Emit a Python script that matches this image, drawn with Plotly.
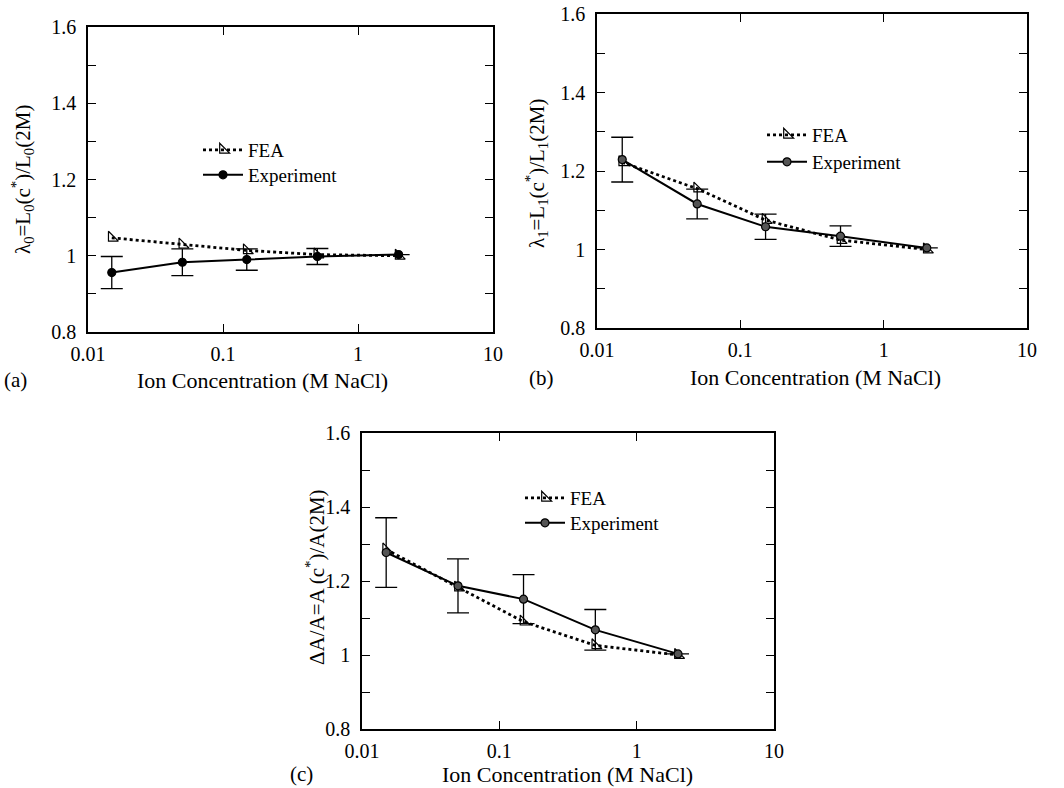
import plotly.graph_objects as go

# ---- data ----
conc = [0.015, 0.05, 0.15, 0.5, 2.0]

a_fea = [1.047, 1.029, 1.014, 1.003, 1.000]
a_exp = [0.956, 0.983, 0.990, 0.998, 1.003]
a_err = [0.042, 0.035, 0.028, 0.021, 0.0]

b_fea = [1.222, 1.155, 1.075, 1.024, 1.000]
b_exp = [1.229, 1.116, 1.058, 1.034, 1.004]
b_err = [0.057, 0.038, 0.032, 0.026, 0.0]

c_fea = [1.285, 1.182, 1.090, 1.026, 1.000]
c_exp = [1.277, 1.187, 1.151, 1.068, 1.003]
c_err = [0.094, 0.073, 0.066, 0.055, 0.0]

x_tickvals = [0.01, 0.1, 1, 10]
x_ticktext = ["0.01", "0.1", "1", "10"]
y_tickvals = [0.8, 1.0, 1.2, 1.4, 1.6]
y_ticktext = ["0.8", "1", "1.2", "1.4", "1.6"]

series_names = ["FEA", "Experiment"]
panel_labels = ["(a)", "(b)", "(c)"]
y_titles = [
    "λ<sub>0</sub>=L<sub>0</sub>(c<sup>*</sup>)/L<sub>0</sub>(2M)",
    "λ<sub>1</sub>=L<sub>1</sub>(c<sup>*</sup>)/L<sub>1</sub>(2M)",
    "ΔA/A=A (c<sup>*</sup>)/A(2M)",
]
x_title = "Ion Concentration (M NaCl)"

FONT = "Liberation Serif, Times New Roman, serif"
W, H = 1064, 788

# pixel boxes of the three plot areas: (left, right, top, bottom)
boxes = [(88, 493, 27, 332), (597, 1027, 14, 328), (362, 774, 433, 729)]
# legend boxes (left, top) for the FEA entry and the Experiment entry of each panel
legend_pos = [((198, 131), (198, 156)), ((762, 116), (762, 143)), ((520, 479), (520, 504))]
ytitle_pos = [(22, 180), (537, 174), (315, 577)]
xtitle_pos = [(262, 380), (815, 378), (567, 774)]
plabel_pos = [(15, 380), (541, 378), (301, 774)]

panels = [(a_fea, a_exp, a_err), (b_fea, b_exp, b_err), (c_fea, c_exp, c_err)]
exp_fill = ["black", "#555555", "#555555"]


def legend_key(n):
    return "legend" if n == 1 else "legend" + str(n)


fig = go.Figure()
for i, (fea, exp, err) in enumerate(panels):
    sfx = "" if i == 0 else str(i + 1)
    fig.add_trace(go.Scatter(
        x=conc, y=fea, name=series_names[0], mode="lines+markers",
        line=dict(color="black", width=2.8, dash="dot"),
        marker=dict(symbol="triangle-sw-open", size=11, color="black", line=dict(width=1.2)),
        xaxis="x" + sfx, yaxis="y" + sfx, legend=legend_key(2 * i + 1),
    ))
    fig.add_trace(go.Scatter(
        x=conc, y=exp, name=series_names[1], mode="lines+markers",
        line=dict(color="black", width=2),
        marker=dict(symbol="circle", size=8, color=exp_fill[i], line=dict(color="black", width=1.2)),
        error_y=dict(type="data", array=err, visible=True, color="black", thickness=1.3, width=11),
        xaxis="x" + sfx, yaxis="y" + sfx, legend=legend_key(2 * i + 2),
    ))

layout = dict(
    width=W, height=H, margin=dict(l=0, r=0, t=0, b=0, autoexpand=False),
    paper_bgcolor="white", plot_bgcolor="white",
    font=dict(family=FONT, size=20, color="black"),
    showlegend=True,
)
annotations = []
for i, (l, r, t, b) in enumerate(boxes):
    sfx = "" if i == 0 else str(i + 1)
    xa = dict(
        type="log", range=[-2, 1], domain=[l / W, r / W], anchor="y" + sfx,
        tickvals=x_tickvals, ticktext=x_ticktext, ticks="inside", ticklen=8,
        tickwidth=1.3, tickcolor="black", showline=True, linecolor="black",
        linewidth=1.6, mirror="ticks", showgrid=False, zeroline=False,
        tickfont=dict(family=FONT, size=20), ticklabelstandoff=3, automargin=False,
    )
    ya = dict(
        range=[0.8, 1.6], domain=[1 - b / H, 1 - t / H], anchor="x" + sfx,
        tickvals=y_tickvals, ticktext=y_ticktext, ticks="inside", ticklen=8,
        tickwidth=1.3, tickcolor="black", showline=True, linecolor="black",
        linewidth=1.6, mirror="ticks", showgrid=False, zeroline=False,
        tickfont=dict(family=FONT, size=20), ticklabelstandoff=6, automargin=False,
        minor=dict(dtick=0.1, tick0=0.8, ticks="inside", ticklen=8, tickcolor="black", tickwidth=1.3, showgrid=False),
    )
    layout["xaxis" + sfx] = xa
    layout["yaxis" + sfx] = ya
    for j in range(2):
        lx, ly = legend_pos[i][j]
        layout[legend_key(2 * i + j + 1)] = dict(
            x=lx / W, y=1 - ly / H, xanchor="left", yanchor="top",
            bgcolor="rgba(0,0,0,0)", font=dict(family=FONT, size=19),
            itemwidth=40,
        )
    tx, ty = ytitle_pos[i]
    annotations.append(dict(text=y_titles[i], x=tx / W, y=1 - ty / H, xref="paper", yref="paper",
                            showarrow=False, textangle=-90, font=dict(family=FONT, size=21),
                            xanchor="center", yanchor="middle"))
    tx, ty = xtitle_pos[i]
    annotations.append(dict(text=x_title, x=tx / W, y=1 - ty / H, xref="paper", yref="paper",
                            showarrow=False, font=dict(family=FONT, size=22),
                            xanchor="center", yanchor="middle"))
    tx, ty = plabel_pos[i]
    annotations.append(dict(text=panel_labels[i], x=tx / W, y=1 - ty / H, xref="paper", yref="paper",
                            showarrow=False, font=dict(family=FONT, size=21),
                            xanchor="center", yanchor="middle"))
layout["annotations"] = annotations
fig.update_layout(**layout)
fig.write_html("out.html", config={"displayModeBar": False},
               post_script="document.body.style.margin='0px';")
